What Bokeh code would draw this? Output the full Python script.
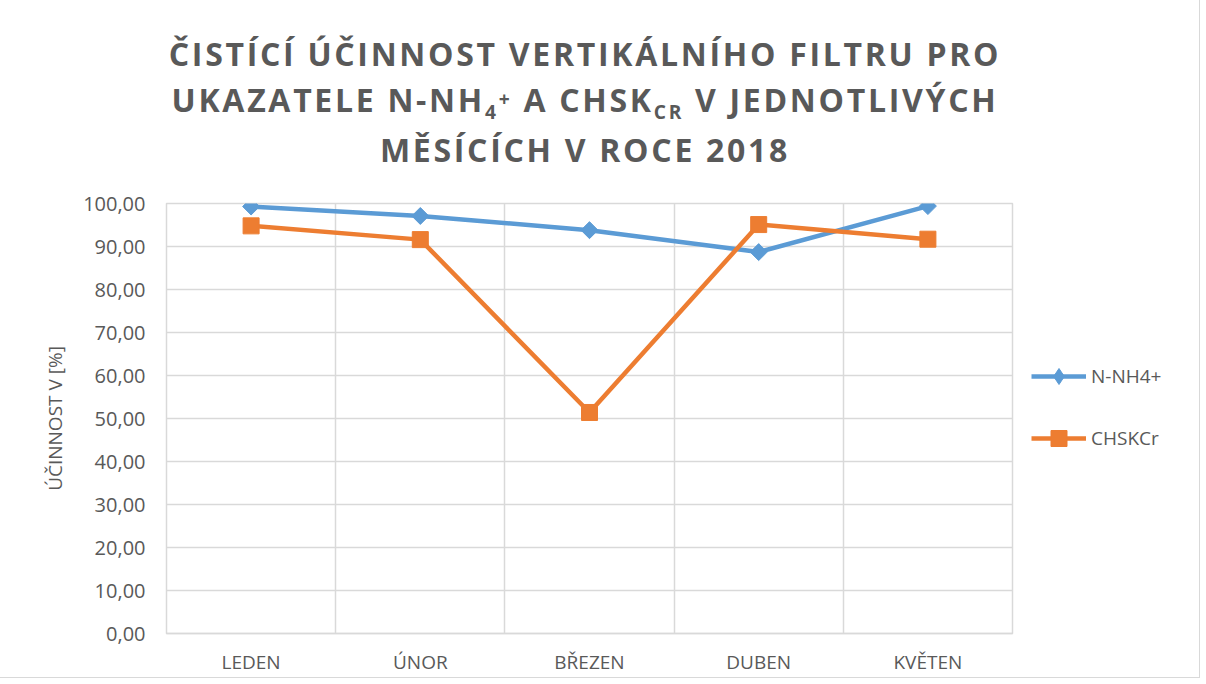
from bokeh.plotting import figure
from bokeh.models import Div, Legend, LegendItem, FixedTicker, Range1d
from bokeh.layouts import column, row
from bokeh.embed import file_html
from bokeh.resources import INLINE
import math

# ---- data ----
months = ["LEDEN", "ÚNOR", "BŘEZEN", "DUBEN", "KVĚTEN"]
nnh4 = [99.3, 97.1, 93.8, 88.7, 99.4]
chsk = [94.8, 91.6, 51.4, 95.1, 91.7]
series_names = ["N-NH4+", "CHSKCr"]
y_ticks = [0, 10, 20, 30, 40, 50, 60, 70, 80, 90, 100]
y_tick_labels = ["0,00", "10,00", "20,00", "30,00", "40,00", "50,00",
                 "60,00", "70,00", "80,00", "90,00", "100,00"]
y_axis_title = "ÚČINNOST V [%]"

BLUE = "#5B9BD5"
ORANGE = "#ED7D31"
GRID = "#D9D9D9"
TXT = "#595959"
FONT = "Open Sans"

x = list(range(len(months)))

FIG_H = 492
p = figure(width=1018, height=FIG_H, output_backend="svg", toolbar_location=None,
           x_range=Range1d(-0.5, len(months) - 0.5), y_range=Range1d(0, 100),
           min_border_left=166, min_border_right=6, min_border_top=18,
           min_border_bottom=41)
p.outline_line_color = GRID
p.outline_line_width = 1.5
p.background_fill_color = "white"
p.border_fill_color = "white"

# axes
p.xaxis.ticker = FixedTicker(ticks=x)
p.xaxis.major_label_overrides = {i: m for i, m in enumerate(months)}
p.xaxis.axis_line_color = GRID
p.xaxis.axis_line_width = 1.5
p.xaxis.major_tick_line_color = None
p.xaxis.minor_tick_line_color = None
p.xaxis.major_label_text_font = FONT
p.xaxis.major_label_text_font_size = "19px"
p.xaxis.major_label_text_color = TXT
p.xaxis.major_label_standoff = 9

p.yaxis.ticker = FixedTicker(ticks=y_ticks)
p.yaxis.major_label_overrides = {t: l for t, l in zip(y_ticks, y_tick_labels)}
p.yaxis.axis_line_color = None
p.yaxis.major_tick_line_color = None
p.yaxis.minor_tick_line_color = None
p.yaxis.major_label_text_font = FONT
p.yaxis.major_label_text_font_size = "20px"
p.yaxis.major_label_text_color = TXT
p.yaxis.major_label_standoff = 15
p.yaxis.axis_label = y_axis_title
p.yaxis.axis_label_text_font = FONT
p.yaxis.axis_label_text_font_size = "19px"
p.yaxis.axis_label_text_font_style = "normal"
p.yaxis.axis_label_text_color = TXT
p.yaxis.axis_label_standoff = 12

# grids
p.xgrid.ticker = FixedTicker(ticks=[i - 0.5 for i in range(len(months) + 1)])
p.ygrid.ticker = FixedTicker(ticks=y_ticks)
p.xgrid.grid_line_color = GRID
p.ygrid.grid_line_color = GRID
p.xgrid.grid_line_width = 1.5
p.ygrid.grid_line_width = 1.5

# series
line_kw = dict(line_width=4.5)
l1 = p.line(x, nnh4, line_color=BLUE, **line_kw)
s1 = p.scatter(x, nnh4, marker="square", size=12, angle=math.pi / 4,
               fill_color=BLUE, line_color=BLUE)
l2 = p.line(x, chsk, line_color=ORANGE, **line_kw)
s2 = p.scatter(x, chsk, marker="square", size=16, fill_color=ORANGE,
               line_color=ORANGE)

# legend panel (separate figure on the right, same series styles)
lf = figure(width=181, height=FIG_H, output_backend="svg", toolbar_location=None,
            x_axis_type=None, y_axis_type=None,
            x_range=Range1d(-0.5, len(months) - 0.5), y_range=Range1d(500, 600),
            min_border_left=0, min_border_right=0, min_border_top=0,
            min_border_bottom=0)
lf.outline_line_color = None
lf.background_fill_color = "white"
lf.border_fill_color = "white"
lb1 = lf.line(x, nnh4, line_color=BLUE, **line_kw)
lm1 = lf.scatter(x, nnh4, marker="diamond", size=16,
                 fill_color=BLUE, line_color=BLUE)
lb2 = lf.line(x, chsk, line_color=ORANGE, **line_kw)
lm2 = lf.scatter(x, chsk, marker="square", size=16, fill_color=ORANGE,
                 line_color=ORANGE)

legend = Legend(items=[LegendItem(label=series_names[0], renderers=[lb1, lm1]),
                       LegendItem(label=series_names[1], renderers=[lb2, lm2])],
                location=(13, 175), orientation="vertical",
                glyph_width=55, glyph_height=40, label_height=40, spacing=22,
                padding=0, margin=0, border_line_color=None,
                background_fill_alpha=0, label_text_font=FONT,
                label_text_font_size="19px", label_text_color=TXT,
                label_standoff=5)
lf.add_layout(legend)

sub = '<span style="font-size:0.6em;position:relative;top:7px;">{}</span>'
sup = '<span style="font-size:0.6em;position:relative;top:-6px;">{}</span>'
title_html = (
    '<div style="display:block;width:1160px;font-family:\'Open Sans\';font-weight:700;font-size:32px;'
    'letter-spacing:2.7px;color:#595959;text-align:center;line-height:45.5px;'
    'padding-top:26px;white-space:nowrap;">'
    'ČISTÍCÍ ÚČINNOST VERTIKÁLNÍHO FILTRU PRO<br>'
    'UKAZATELE N-NH' + sub.format('4') + sup.format('+') + ' A CHSK'
    + sub.format('CR') + ' V JEDNOTLIVÝCH<br>'
    'MĚSÍCÍCH V ROCE 2018</div>'
)
title_div = Div(text=title_html, width=1160, height=175)

layout = column(title_div, row(p, lf, spacing=0), spacing=0,
                styles={"outline": "1px solid #D9D9D9", "margin-bottom": "-12px"})

open("out.html", "w").write(file_html(layout, INLINE))
